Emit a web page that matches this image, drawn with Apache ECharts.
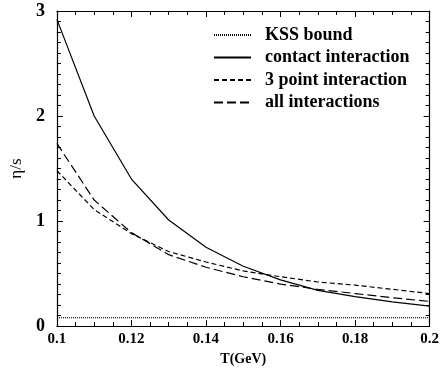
<!DOCTYPE html>
<html><head><meta charset="utf-8">
<script src="https://cdn.jsdelivr.net/npm/echarts@6/dist/echarts.min.js"></script>
<style>html,body{margin:0;padding:0;background:#fff}#c{width:442px;height:371px}</style>
</head><body><div id="c"></div>
<script>
const T = [0.10,0.11,0.12,0.13,0.14,0.15,0.16,0.17,0.18,0.19,0.20];
const contact = [2.92,2.00,1.40,1.01,0.75,0.57,0.44,0.34,0.28,0.23,0.19];
const threePoint = [1.48,1.11,0.88,0.71,0.61,0.525,0.47,0.42,0.39,0.35,0.31];
const allInt = [1.74,1.20,0.89,0.68,0.56,0.47,0.40,0.35,0.31,0.27,0.235];
const kssT = [0.10,0.20];
const kss = [0.0796,0.0796];
const xTicks = ['0.1','0.12','0.14','0.16','0.18','0.2'];
const names = ['KSS bound','contact interaction','3 point interaction','all interactions'];

const font = '"Liberation Serif","Times New Roman",serif';
const pair = (xs, ys) => xs.map((x,i)=>[x,ys[i]]);
const chart = echarts.init(document.getElementById('c'));
const baseAxis = {
  axisLine:{show:true,onZero:false,lineStyle:{color:'#000',width:1.2}},
  axisTick:{show:true,inside:true,length:6,lineStyle:{color:'#000'}},
  splitLine:{show:false}
};
const mk = (name, data, type, z) => ({
  name, type:'line', data, symbol:'none', silent:true, z,
  itemStyle:{color:'#000'},
  lineStyle:{color:'#000', width:1.2, type}
});
chart.setOption({
  animation:false,
  grid:{left:48,right:8,top:11,bottom:42},
  legend:{
    left:208, top:21, orient:'vertical', itemWidth:37, itemHeight:10, itemGap:4.5,
    data:names,
    itemStyle:{opacity:0},
    textStyle:{fontFamily:font,fontWeight:'bold',fontSize:18,color:'#000',padding:[0,0,0,9]}
  },
  xAxis:[
    Object.assign({type:'value',min:0.1,max:0.2,interval:0.02,position:'bottom',
      name:'T(GeV)',nameLocation:'middle',nameGap:25,
      nameTextStyle:{fontFamily:font,fontWeight:'bold',fontSize:14,color:'#000'},
      axisLabel:{fontFamily:font,fontWeight:'bold',fontSize:15,color:'#000',margin:6,
        formatter:v=>xTicks[Math.round((v-0.1)/0.02)]}}, baseAxis,
      {minorTick:{show:true,splitNumber:4,length:4,lineStyle:{color:'#000'}}}),
    Object.assign({type:'value',min:0.1,max:0.2,interval:0.02,position:'top',
      axisLabel:{show:false}}, baseAxis,
      {minorTick:{show:true,splitNumber:4,length:4,lineStyle:{color:'#000'}}})
  ],
  yAxis:[
    Object.assign({type:'value',min:0,max:3,interval:1,position:'left',
      name:'η/s',nameLocation:'middle',nameGap:30,nameRotate:90,
      nameTextStyle:{fontFamily:font,fontSize:17,color:'#000'},
      axisLabel:{fontFamily:font,fontWeight:'bold',fontSize:18,color:'#000',margin:12}}, baseAxis,
      {minorTick:{show:true,splitNumber:10,length:4,lineStyle:{color:'#000'}}}),
    Object.assign({type:'value',min:0,max:3,interval:1,position:'right',
      axisLabel:{show:false}}, baseAxis,
      {minorTick:{show:true,splitNumber:10,length:4,lineStyle:{color:'#000'}}})
  ],
  series:[
    mk(names[0], pair(kssT,kss), [1,1], 2),
    mk(names[1], pair(T,contact), 'solid', 3),
    mk(names[2], pair(T,threePoint), [5,3], 4),
    mk(names[3], pair(T,allInt), [9,4], 5)
  ]
});
</script></body></html>
